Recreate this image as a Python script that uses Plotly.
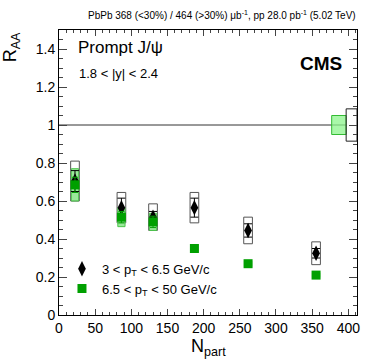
import plotly.graph_objects as go

# centrality bins -> Npart
npart = [22.1, 86.3, 130.0, 187.2, 261.4, 355.4]

# 3 < pT < 6.5 GeV/c
raa_low = [0.705, 0.565, 0.515, 0.565, 0.445, 0.325]
stat_low = [0.055, 0.05, 0.03, 0.05, 0.035, 0.025]
syst_low = [0.105, 0.08, 0.07, 0.08, 0.07, 0.06]

# 6.5 < pT < 50 GeV/c
raa_high = [0.685, 0.515, 0.49, 0.35, 0.27, 0.21]
stat_high = [0.04, 0.03, 0.03, 0.015, 0.01, 0.01]
syst_high = [0.085, 0.05, 0.045, 0.02, 0.015, 0.012]

# global uncertainties at unity
glob_high = 0.05
glob_low = 0.085

FONT = "Liberation Sans, Arial, Helvetica, sans-serif"
GREEN = "#00a000"

fig = go.Figure()

# systematic boxes
for x, y, s in zip(npart, raa_low, syst_low):
    fig.add_shape(type="rect", xref="x", yref="y", x0=x - 6, x1=x + 6,
                  y0=y - s, y1=y + s, line=dict(color="#555555", width=1),
                  fillcolor="rgba(255,255,255,0)", layer="below")
for x, y, s in zip(npart, raa_high, syst_high):
    fig.add_shape(type="rect", xref="x", yref="y", x0=x - 5, x1=x + 5,
                  y0=y - s, y1=y + s, line=dict(color="#4cc44c", width=1),
                  fillcolor="rgba(120,225,120,0.75)", layer="below")

# line at unity and global boxes
fig.add_shape(type="line", xref="x", yref="y", x0=0, x1=397, y0=1, y1=1,
              line=dict(color="#333333", width=1), layer="below")
fig.add_shape(type="rect", xref="x", yref="y", x0=377, x1=397,
              y0=1 - glob_high, y1=1 + glob_high,
              line=dict(color="#33bb33", width=1),
              fillcolor="rgba(140,245,140,0.75)", layer="below")
fig.add_shape(type="rect", xref="x", yref="y", x0=397, x1=412,
              y0=1 - glob_low, y1=1 + glob_low,
              line=dict(color="#222222", width=1), layer="below")

fig.add_trace(go.Scatter(
    x=npart, y=raa_low, mode="markers",
    name="3 &lt; p<sub>T</sub> &lt; 6.5 GeV/c",
    marker=dict(symbol="diamond-tall", size=11, color="black"),
    error_y=dict(type="data", array=stat_low, color="black", thickness=1, width=4),
))
fig.add_trace(go.Scatter(
    x=npart, y=raa_high, mode="markers",
    name="6.5 &lt; p<sub>T</sub> &lt; 50 GeV/c",
    marker=dict(symbol="square", size=9, color=GREEN),
    error_y=dict(type="data", array=stat_high, color=GREEN, thickness=1, width=3),
))

fig.add_annotation(text="PbPb 368 (&lt;30%) / 464 (&gt;30%) μb<sup>-1</sup>, pp 28.0 pb<sup>-1</sup> (5.02 TeV)",
                   xref="paper", yref="paper", x=1.005, y=1.053, xanchor="right", yanchor="middle",
                   showarrow=False, font=dict(size=10, color="black"))
fig.add_annotation(text="Prompt J/ψ", xref="paper", yref="paper", x=0.058, y=0.937,
                   xanchor="left", yanchor="middle", showarrow=False,
                   font=dict(size=17, color="black"))
fig.add_annotation(text="1.8 &lt; |y| &lt; 2.4", xref="paper", yref="paper", x=0.06, y=0.849,
                   xanchor="left", yanchor="middle", showarrow=False,
                   font=dict(size=13, color="black"))
fig.add_annotation(text="<b>CMS</b>", xref="paper", yref="paper", x=0.955, y=0.881,
                   xanchor="right", yanchor="middle", showarrow=False,
                   font=dict(size=19, color="black"))
fig.add_annotation(text="R<sub>AA</sub>", xref="paper", yref="paper", x=-0.16, y=1.0,
                   xanchor="center", yanchor="top", textangle=-90, showarrow=False,
                   font=dict(size=18, color="black"))
fig.add_annotation(text="N<sub>part</sub>", xref="paper", yref="paper", x=0.5, y=-0.065,
                   xanchor="center", yanchor="top", showarrow=False,
                   font=dict(size=18, color="black"))

fig.update_xaxes(range=[0, 412], dtick=50, tick0=0, ticks="inside", ticklen=6,
                 showline=True, linecolor="black", linewidth=1, mirror="allticks",
                 showgrid=False, zeroline=False,
                 tickfont=dict(size=14, color="black"),
                 minor=dict(ticks="inside", ticklen=3, dtick=10, showgrid=False))
fig.update_yaxes(range=[0, 1.5], dtick=0.2, tick0=0, ticks="inside", ticklen=8,
                 showline=True, linecolor="black", linewidth=1, mirror="allticks",
                 showgrid=False, zeroline=False,
                 tickfont=dict(size=14, color="black"),
                 minor=dict(ticks="inside", ticklen=4, dtick=0.05, showgrid=False))

fig.update_layout(
    width=374, height=359,
    margin=dict(l=59, r=17, t=30, b=44),
    paper_bgcolor="white", plot_bgcolor="white",
    font=dict(family=FONT, color="black"),
    showlegend=True,
    legend=dict(x=0.01, y=0.215, xanchor="left", yanchor="top",
                bgcolor="rgba(0,0,0,0)", font=dict(size=13), tracegroupgap=0),
)

fig.write_html("out.html", config={"displayModeBar": False},
               post_script="document.body.style.margin='0';")
